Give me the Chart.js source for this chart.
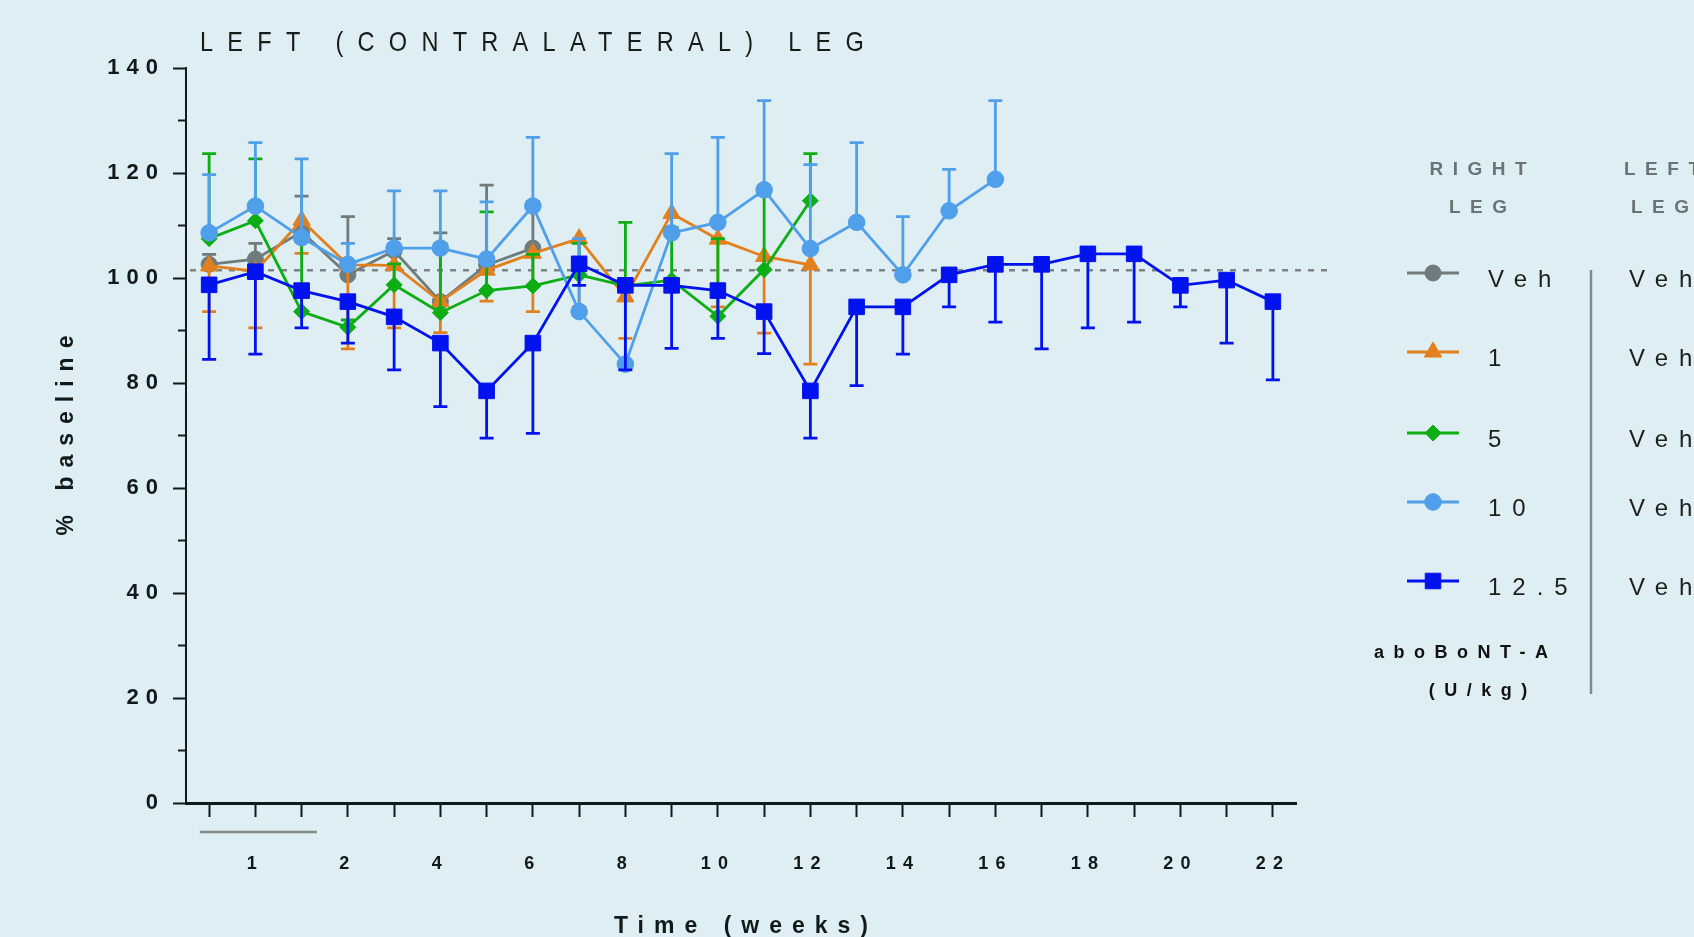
<!DOCTYPE html>
<html>
<head>
<meta charset="utf-8">
<title>Left (contralateral) leg</title>
<script src="https://cdn.jsdelivr.net/npm/chart.js"></script>
<style>
  html, body { margin: 0; padding: 0; background: #dfeef2; }
  #wrap { width: 1694px; height: 937px; }
</style>
</head>
<body>
<div id="wrap"><canvas id="legChart" width="1694" height="937"></canvas></div>
<script>
// time points (one per tick), only some carry a label
const timeLabels = ['', '1', '', '2', '', '4', '', '6', '', '8', '', '10', '', '12', '', '14', '', '16', '', '18', '', '20', '', '22'];

// % baseline, mean and the end of the one-sided error bar
const vehMean = [102.6, 103.6, 108.8, 100.6, 105.2, 95.5, 102.5, 105.7];
const vehErr = [104.5, 106.6, 115.6, 111.7, 107.5, 108.6, 117.7, 114.6];

const dose1Mean = [102.3, 101.3, 111.0, 102.5, 102.4, 95.5, 101.5, 104.7, 107.5, 96.4, 112.3, 107.4, 104.1, 102.5];
const dose1Err = [93.6, 90.5, 104.7, 86.5, 90.5, 89.6, 95.6, 93.6, 94.5, 88.5, 109.0, 94.5, 89.5, 83.6];

const dose5Mean = [107.5, 110.9, 93.6, 90.6, 98.7, 93.4, 97.6, 98.5, 100.6, 98.5, 99.6, 92.7, 101.6, 114.7];
const dose5Err = [123.7, 122.7, 106.9, 92.0, 102.7, 106.6, 112.6, 104.5, 106.6, 110.6, 109.6, 107.5, 115.8, 123.7];

const dose10Mean = [108.6, 113.7, 107.7, 102.6, 105.7, 105.7, 103.6, 113.7, 93.6, 83.6, 108.6, 110.6, 116.8, 105.6, 110.6, 100.6, 112.8, 118.8];
const dose10Err = [119.7, 125.8, 122.7, 106.6, 116.6, 116.6, 114.5, 126.8, 107.5, 98.5, 123.7, 126.8, 133.8, 121.6, 125.8, 111.7, 120.7, 133.8];

const dose125Mean = [98.7, 101.2, 97.6, 95.5, 92.6, 87.6, 78.5, 87.6, 102.7, 98.6, 98.6, 97.6, 93.6, 78.5, 94.5, 94.5, 100.6, 102.6, 102.6, 104.6, 104.6, 98.6, 99.6, 95.5];
const dose125Err = [84.5, 85.5, 90.5, 87.6, 82.5, 75.5, 69.5, 70.4, 98.6, 82.5, 86.6, 88.5, 85.6, 69.5, 79.5, 85.5, 94.5, 91.6, 86.5, 90.5, 91.6, 94.5, 87.6, 80.6];

const baselineRef = 101.5;
const treatmentBar = [-0.2, 2.33];

const rightLegLabels = ['Veh', '1', '5', '10', '12.5'];
const leftLegLabels = ['Veh', 'Veh', 'Veh', 'Veh', 'Veh'];

const axisInk = '#0f1a1c';
const greyInk = '#687476';

function series(label, data, err, color, style, radius, order) {
    return {
        label: label,
        data: data,
        errEnds: err,
        borderColor: color,
        backgroundColor: color,
        borderWidth: 2.8,
        pointStyle: style,
        pointRadius: radius,
        pointBackgroundColor: color,
        pointBorderColor: color,
        pointBorderWidth: 1,
        tension: 0,
        fill: false,
        order: order
    };
}

const datasets = [
    series('Veh', vehMean, vehErr, '#6f7b7d', 'circle', 8, 4),
    series('1', dose1Mean, dose1Err, '#e2801e', 'triangle', 10, 3),
    series('5', dose5Mean, dose5Err, '#0cae14', 'rectRot', 8, 2),
    series('10', dose10Mean, dose10Err, '#4f9fea', 'circle', 8.3, 1),
    series('12.5', dose125Mean, dose125Err, '#0012ee', 'rect', 11, 0)
];

// text with letter spacing; squeeze < 1 narrows the glyphs
function spacedText(ctx, text, x, y, font, color, spacing, align, squeeze) {
    const k = squeeze || 1;
    ctx.save();
    ctx.font = font;
    ctx.fillStyle = color;
    ctx.letterSpacing = spacing + 'px';
    ctx.textBaseline = 'middle';
    ctx.textAlign = 'left';
    const w = (ctx.measureText(text).width - spacing) * k;
    const sx = align === 'center' ? x - w / 2 : x;
    ctx.translate(sx, y);
    ctx.scale(k, 1);
    ctx.fillText(text, 0, 0);
    ctx.restore();
}

const spacingPlugin = {
    id: 'spacing',
    beforeDraw(chart) {
        chart.ctx.letterSpacing = '7px';
    }
};

const errorBarPlugin = {
    id: 'errorBars',
    beforeDatasetDraw(chart, args) {
        const ds = chart.data.datasets[args.index];
        if (!ds.errEnds) return;
        const y = chart.scales.y;
        const ctx = chart.ctx;
        ctx.save();
        ctx.strokeStyle = ds.borderColor;
        ctx.lineWidth = 2.8;
        args.meta.data.forEach((pt, i) => {
            const end = ds.errEnds[i];
            if (end == null) return;
            const ye = y.getPixelForValue(end);
            ctx.beginPath();
            ctx.moveTo(pt.x, pt.y);
            ctx.lineTo(pt.x, ye);
            ctx.moveTo(pt.x - 7, ye);
            ctx.lineTo(pt.x + 7, ye);
            ctx.stroke();
        });
        ctx.restore();
    }
};

const refLinePlugin = {
    id: 'refLine',
    beforeDatasetsDraw(chart) {
        const ctx = chart.ctx;
        const area = chart.chartArea;
        const yv = chart.scales.y.getPixelForValue(baselineRef);
        ctx.save();
        ctx.strokeStyle = '#7a8487';
        ctx.lineWidth = 2.5;
        ctx.setLineDash([6, 7]);
        ctx.beginPath();
        ctx.moveTo(area.left + 4, yv);
        ctx.lineTo(area.right + 32, yv);
        ctx.stroke();
        ctx.restore();
    }
};

function drawMarker(ctx, ds, x, y) {
    ctx.fillStyle = ds.pointBackgroundColor;
    ctx.strokeStyle = ds.pointBorderColor;
    ctx.lineWidth = 1;
    if (Chart.helpers && Chart.helpers.drawPoint) {
        Chart.helpers.drawPoint(ctx, {pointStyle: ds.pointStyle, radius: ds.pointRadius, rotation: 0, borderWidth: 1}, x, y);
    } else {
        ctx.beginPath();
        ctx.arc(x, y, ds.pointRadius, 0, Math.PI * 2);
        ctx.fill();
    }
}

const decorPlugin = {
    id: 'decor',
    afterDraw(chart) {
        const ctx = chart.ctx;
        const area = chart.chartArea;
        const x = chart.scales.x;
        const y = chart.scales.y;

        // minor ticks on the y axis
        ctx.save();
        ctx.strokeStyle = axisInk;
        ctx.lineWidth = 2;
        y.ticks.forEach(t => {
            if (t.value % 20 === 0) return;
            const py = y.getPixelForValue(t.value);
            ctx.beginPath();
            ctx.moveTo(area.left - 8, py);
            ctx.lineTo(area.left, py);
            ctx.stroke();
        });

        // treatment bar under the first weeks
        ctx.strokeStyle = '#7f8a8c';
        ctx.lineWidth = 2.5;
        ctx.beginPath();
        ctx.moveTo(x.getPixelForValue(treatmentBar[0]), area.bottom + 29);
        ctx.lineTo(x.getPixelForValue(treatmentBar[1]), area.bottom + 29);
        ctx.stroke();
        ctx.restore();

        // titles
        spacedText(ctx, 'LEFT (CONTRALATERAL) LEG', 200, 43, "28px 'Liberation Sans', sans-serif", '#161c1e', 17, 'left', 0.84);
        spacedText(ctx, 'Time (weeks)', (area.left + area.right) / 2, 927, "bold 23px 'Liberation Sans', sans-serif", axisInk, 10, 'center');
        ctx.save();
        ctx.translate(67, (area.top + area.bottom) / 2);
        ctx.rotate(-Math.PI / 2);
        spacedText(ctx, '% baseline', 0, 0, "bold 23px 'Liberation Sans', sans-serif", axisInk, 9, 'center');
        ctx.restore();

        // legend panel
        const lx = area.right + 111;
        const rowY = [273, 352, 433, 502, 581];
        const headFont = "bold 19px 'Liberation Sans', sans-serif";
        spacedText(ctx, 'RIGHT', lx + 71, 170, headFont, greyInk, 9.5, 'center');
        spacedText(ctx, 'LEG', lx + 71, 208, headFont, greyInk, 9.5, 'center');
        spacedText(ctx, 'LEFT', lx + 217, 170, headFont, greyInk, 9.5, 'left');
        spacedText(ctx, 'LEG', lx + 224, 208, headFont, greyInk, 9.5, 'left');

        chart.data.datasets.forEach((ds, i) => {
            const ry = rowY[i];
            ctx.save();
            ctx.strokeStyle = ds.borderColor;
            ctx.lineWidth = 2.8;
            ctx.beginPath();
            ctx.moveTo(lx, ry);
            ctx.lineTo(lx + 52, ry);
            ctx.stroke();
            drawMarker(ctx, ds, lx + 26, ry);
            ctx.restore();
            spacedText(ctx, rightLegLabels[i], lx + 81, ry + 7, "24px 'Liberation Sans', sans-serif", '#1b1f20', 11, 'left');
            spacedText(ctx, leftLegLabels[i], lx + 222, ry + 7, "24px 'Liberation Sans', sans-serif", '#1b1f20', 11, 'left');
        });

        ctx.save();
        ctx.strokeStyle = '#7f8a8c';
        ctx.lineWidth = 2.5;
        ctx.beginPath();
        ctx.moveTo(lx + 184, 270);
        ctx.lineTo(lx + 184, 694);
        ctx.stroke();
        ctx.restore();

        spacedText(ctx, 'aboBoNT-A', lx + 54, 653, "bold 18px 'Liberation Sans', sans-serif", '#111', 9.5, 'center');
        spacedText(ctx, '(U/kg)', lx + 71, 691, "bold 18px 'Liberation Sans', sans-serif", '#111', 9.5, 'center');
    }
};

new Chart(document.getElementById('legChart').getContext('2d'), {
    type: 'line',
    data: {
        labels: timeLabels,
        datasets: datasets
    },
    options: {
        responsive: false,
        animation: false,
        devicePixelRatio: 1,
        layout: { padding: { top: 68, right: 398, bottom: 0, left: 0 } },
        plugins: {
            legend: { display: false },
            tooltip: { enabled: false },
            title: { display: false }
        },
        scales: {
            x: {
                type: 'category',
                offset: true,
                grid: { display: true, drawOnChartArea: false, drawTicks: true, tickLength: 14, tickWidth: 2, tickColor: axisInk, offset: false },
                border: { color: axisInk, width: 3 },
                ticks: {
                    autoSkip: false,
                    maxRotation: 0,
                    padding: 36,
                    color: axisInk,
                    font: { family: "'Liberation Sans', sans-serif", size: 18, weight: 'bold' }
                },
                afterFit: s => { s.height = 134; }
            },
            y: {
                min: 0,
                max: 140,
                ticks: {
                    stepSize: 10,
                    padding: 8,
                    color: axisInk,
                    font: { family: "'Liberation Sans', sans-serif", size: 22, weight: 'bold' },
                    callback: v => (v % 20 === 0 ? v : '')
                },
                grid: {
                    display: true,
                    drawOnChartArea: false,
                    tickLength: 13,
                    tickWidth: 2,
                    tickColor: c => (c.tick && c.tick.value % 20 === 0 ? axisInk : 'rgba(0,0,0,0)')
                },
                border: { color: axisInk, width: 2 },
                afterFit: s => { s.width = 186; }
            }
        }
    },
    plugins: [spacingPlugin, refLinePlugin, errorBarPlugin, decorPlugin]
});
</script>
</body>
</html>
